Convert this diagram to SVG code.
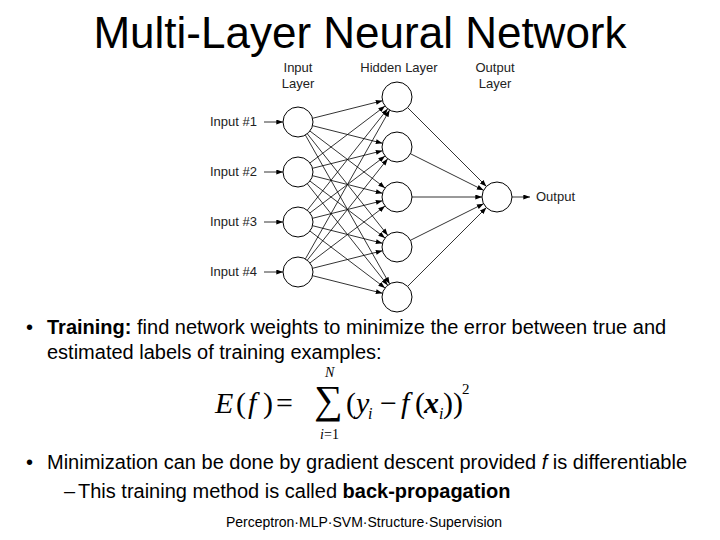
<svg xmlns="http://www.w3.org/2000/svg" width="720" height="540" viewBox="0 0 720 540">
<defs>
<marker id="ah" viewBox="0 0 8 6" refX="8" refY="3" markerWidth="7" markerHeight="5" orient="auto" markerUnits="userSpaceOnUse">
<path d="M0,0 L8,3 L0,6 z" fill="#000"/>
</marker>
<style>
.t{font-family:"Liberation Sans",Arial,sans-serif;fill:#000}
.n{font-family:"Liberation Sans",Arial,sans-serif;font-size:13px;fill:#222}
.node{fill:#fff;stroke:#000;stroke-width:1}
.e line{stroke:#000;stroke-width:0.8;marker-end:url(#ah)}
.m{font-family:"Liberation Serif","Times New Roman",serif;fill:#000;font-size:30px}
.mi{font-style:italic}
</style>
</defs>
<rect width="720" height="540" fill="#fff"/>
<text class="t" x="360" y="48" font-size="44" text-anchor="middle">Multi-Layer Neural Network</text>

<g id="layer-labels">
<text class="n" x="298" y="72" text-anchor="middle">Input</text>
<text class="n" x="298" y="88" text-anchor="middle">Layer</text>
<text class="n" x="399" y="72" text-anchor="middle">Hidden Layer</text>
<text class="n" x="495" y="72" text-anchor="middle">Output</text>
<text class="n" x="495" y="88" text-anchor="middle">Layer</text>
</g>

<g id="connectors" class="e">
<line x1="264" y1="122" x2="283" y2="122"/>
<line x1="264" y1="172" x2="283" y2="172"/>
<line x1="264" y1="222" x2="283" y2="222"/>
<line x1="264" y1="272" x2="283" y2="272"/>
<line x1="312.5" y1="118.3" x2="382.5" y2="100.7"/>
<line x1="312.5" y1="125.7" x2="382.5" y2="143.3"/>
<line x1="310" y1="131.1" x2="385" y2="187.9"/>
<line x1="307.3" y1="133.8" x2="387.7" y2="235.2"/>
<line x1="305.4" y1="135.1" x2="389.6" y2="283.9"/>
<line x1="310" y1="162.9" x2="385" y2="106.1"/>
<line x1="312.5" y1="168.3" x2="382.5" y2="150.7"/>
<line x1="312.5" y1="175.7" x2="382.5" y2="193.3"/>
<line x1="310" y1="181.1" x2="385" y2="237.9"/>
<line x1="307.3" y1="183.8" x2="387.7" y2="285.2"/>
<line x1="307.3" y1="210.2" x2="387.7" y2="108.8"/>
<line x1="310" y1="212.9" x2="385" y2="156.1"/>
<line x1="312.5" y1="218.3" x2="382.5" y2="200.7"/>
<line x1="312.5" y1="225.7" x2="382.5" y2="243.3"/>
<line x1="310" y1="231.1" x2="385" y2="287.9"/>
<line x1="305.4" y1="258.9" x2="389.6" y2="110.1"/>
<line x1="307.3" y1="260.2" x2="387.7" y2="158.8"/>
<line x1="310" y1="262.9" x2="385" y2="206.1"/>
<line x1="312.5" y1="268.3" x2="382.5" y2="250.7"/>
<line x1="312.5" y1="275.7" x2="382.5" y2="293.3"/>
<line x1="407.6" y1="107.6" x2="486.4" y2="186.4"/>
<line x1="410.4" y1="153.7" x2="483.6" y2="190.3"/>
<line x1="412" y1="197" x2="482" y2="197"/>
<line x1="410.4" y1="240.3" x2="483.6" y2="203.7"/>
<line x1="407.6" y1="286.4" x2="486.4" y2="207.6"/>
<line x1="512" y1="197" x2="530" y2="197"/>
</g>

<g id="in1"><text class="n" x="210" y="126">Input #1</text><circle class="node" cx="298" cy="122" r="15"/></g>
<g id="in2"><text class="n" x="210" y="176">Input #2</text><circle class="node" cx="298" cy="172" r="15"/></g>
<g id="in3"><text class="n" x="210" y="226">Input #3</text><circle class="node" cx="298" cy="222" r="15"/></g>
<g id="in4"><text class="n" x="210" y="276">Input #4</text><circle class="node" cx="298" cy="272" r="15"/></g>
<g id="h1"><circle class="node" cx="397" cy="97" r="15"/></g>
<g id="h2"><circle class="node" cx="397" cy="147" r="15"/></g>
<g id="h3"><circle class="node" cx="397" cy="197" r="15"/></g>
<g id="h4"><circle class="node" cx="397" cy="247" r="15"/></g>
<g id="h5"><circle class="node" cx="397" cy="297" r="15"/></g>
<g id="out"><circle class="node" cx="497" cy="197" r="15"/><text class="n" x="536" y="201">Output</text></g>

<g id="bullets" class="t" font-size="20">
<text x="26" y="334">•</text>
<text x="47" y="334"><tspan font-weight="bold">Training:</tspan> find network weights to minimize the error between true and</text>
<text x="47" y="359">estimated labels of training examples:</text>
<text x="26" y="469">•</text>
<text x="47" y="469">Minimization can be done by gradient descent provided <tspan font-style="italic">f</tspan> is differentiable</text>
<text x="64" y="498">–</text>
<text x="78" y="498">This training method is called <tspan font-weight="bold">back-propagation</tspan></text>
</g>

<g id="formula" class="m">
<text x="215" y="413" class="mi">E</text>
<text x="236" y="413">(</text>
<text x="248" y="413" class="mi">f</text>
<text x="263" y="413">)</text>
<text x="276" y="413">=</text>
<text x="314" y="413" font-size="40">∑</text>
<text x="325" y="377" class="mi" font-size="14">N</text>
<text x="320" y="439" class="mi" font-size="14">i</text>
<text x="324" y="439" font-size="14">=1</text>
<text x="346" y="413">(</text>
<text x="356" y="413" class="mi">y</text>
<text x="368" y="419" class="mi" font-size="16">i</text>
<text x="380" y="413">−</text>
<text x="401" y="413" class="mi">f</text>
<text x="415" y="413">(</text>
<text x="424" y="413" class="mi" font-weight="bold">x</text>
<text x="439" y="419" class="mi" font-size="16">i</text>
<text x="443" y="413">))</text>
<text x="462" y="394" font-size="15">2</text>
</g>

<text class="t" x="364" y="527" font-size="14" text-anchor="middle">Perceptron·MLP·SVM·Structure·Supervision</text>
</svg>
